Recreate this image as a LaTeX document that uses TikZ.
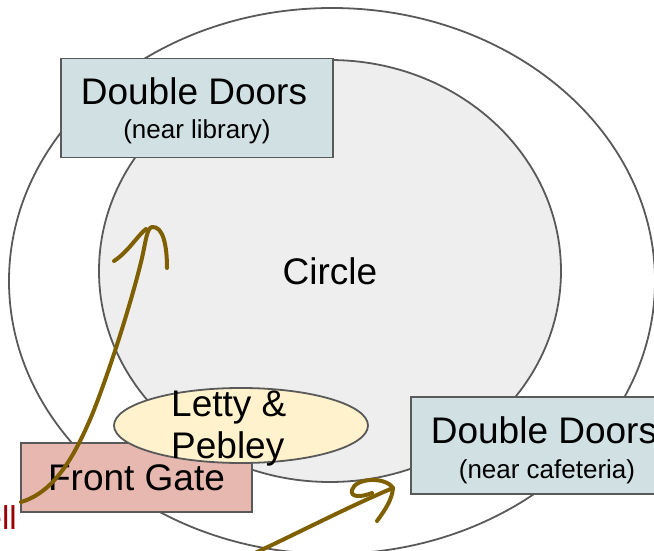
\documentclass[tikz,border=0pt]{standalone}
\usepackage{fontspec}
\setmainfont{Liberation Sans}
\usetikzlibrary{shapes.geometric}
\definecolor{edge}{HTML}{595959}
\definecolor{innerfill}{HTML}{EEEEEE}
\definecolor{doorfill}{HTML}{D0E0E3}
\definecolor{gatefill}{HTML}{E6B8AF}
\definecolor{lpfill}{HTML}{FFF2CC}
\definecolor{arrowc}{HTML}{7F6000}
\definecolor{redtxt}{HTML}{990000}
\begin{document}
\begin{tikzpicture}[x=1pt,y=-1pt,
  region/.style={ellipse, draw=edge, line width=1.8pt, inner sep=0pt},
  box/.style={rectangle, draw=edge, line width=1.8pt, inner sep=0pt, align=center},
  big/.style={font=\fontsize{37}{43}\selectfont},
  sub/.style={font=\fontsize{26}{31}\selectfont, anchor=base, inner sep=0pt},
  title/.style={font=\fontsize{37}{43}\selectfont, anchor=base, inner sep=0pt},
  scribble/.style={draw=arrowc, line width=4pt, line cap=round, line join=round}]
\useasboundingbox (0,0) rectangle (654,551);
\clip (0,0) rectangle (654,551);
% regions
\node[region, fill=white, minimum width=646pt, minimum height=546pt] (campus) at (332,281) {};
\node[region, fill=innerfill, minimum width=462pt, minimum height=422pt, big] (circle) at (330,271) {Circle};
% boxes
\node[box, fill=doorfill, minimum width=272pt, minimum height=99pt] (lib) at (197,108) {};
\node[title] (libtitle) at (194,105) {Double Doors};
\node[sub] (libsub) at (197,138.5) {(near library)};
\node[box, fill=doorfill, minimum width=268pt, minimum height=97pt] (caf) at (545,445.5) {};
\node[title] (caftitle) at (544,443) {Double Doors};
\node[sub] (cafsub) at (547,478) {(near cafeteria)};
\node[box, fill=gatefill, minimum width=231pt, minimum height=69pt, big] (gate) at (136.5,477.5) {Front Gate};
\node[region, fill=lpfill, minimum width=254pt, minimum height=75pt] (lp) at (241,425.5) {};
\node[anchor=west, inner sep=0pt, align=left, font=\fontsize{37}{42}\selectfont] (lptext) at (171,429) {Letty \&\\Pebley};
% red text cut at the left edge
\node[anchor=base west, inner sep=0pt, text=redtxt, font=\fontsize{33}{38}\selectfont] (redlabel) at (-16.5,529) {ell};
% hand-drawn arrows
\coordinate (a1s) at (21,502);
\coordinate (a1m) at (92,415);
\coordinate (a1n) at (142,258);
\coordinate (a1t) at (152,227);
\coordinate (a1r) at (167,268);
\coordinate (a1l) at (114,261);
\coordinate (a1b) at (146,229);
\path[scribble] (a1s) .. controls (55,492) and (75,455) .. (a1m)
  .. controls (110,370) and (132,300) .. (a1n)
  .. controls (146,240) and (147,228) .. (a1t)
  .. controls (163,226) and (167,245) .. (a1r);
\path[scribble] (a1l) .. controls (128,252) and (138,235) .. (a1b);
\coordinate (a2s) at (255,553);
\coordinate (a2t) at (393,488);
\coordinate (a2r) at (377,521);
\coordinate (a2e) at (372,493);
\path[scribble] (a2s) .. controls (300,532) and (350,506) .. (a2t);
\path[scribble] (a2r) .. controls (385,510) and (392,500) .. (a2t)
  .. controls (385,476) and (355,478) .. (352,490)
  .. controls (350,498) and (362,497) .. (a2e);
\end{tikzpicture}
\end{document}
